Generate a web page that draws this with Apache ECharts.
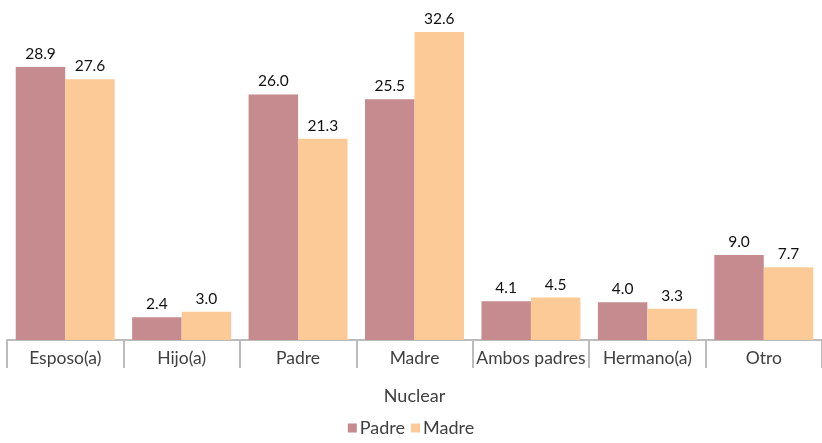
<!DOCTYPE html>
<html><head><meta charset="utf-8">
<script src="https://cdn.jsdelivr.net/npm/echarts@6/dist/echarts.min.js"></script>
<style>html,body{margin:0;padding:0;background:#fff}#c{width:822px;height:443px}</style>
</head><body><div id="c"></div>
<script>
const categories = ['Esposo(a)', 'Hijo(a)', 'Padre', 'Madre', 'Ambos padres', 'Hermano(a)', 'Otro'];
const padre = [28.9, 2.4, 26.0, 25.5, 4.1, 4.0, 9.0];
const madre = [27.6, 3.0, 21.3, 32.6, 4.5, 3.3, 7.7];
const seriesNames = ['Padre', 'Madre'];
const axisName = 'Nuclear';

const font = 'Lato, "Open Sans", sans-serif';
const chart = echarts.init(document.getElementById('c'));
const lbl = {show: true, position: 'top', distance: 5, color: '#111', fontSize: 15.5, fontFamily: font, formatter: p => p.value.toFixed(1)};
chart.setOption({
  animation: false,
  grid: {left: 7, right: 0, top: 0, bottom: 103},
  legend: {bottom: 1, left: 'center', itemWidth: 9, itemHeight: 9, itemGap: 6, icon: 'rect',
    textStyle: {fontFamily: font, fontSize: 18, color: '#404040', padding: [0,0,0,-2]}, data: seriesNames},
  xAxis: {type: 'category', data: categories,
    axisLine: {lineStyle: {color: '#bcbcbc', width: 2}},
    axisTick: {show: true, length: 28, lineStyle: {color: '#bcbcbc', width: 2}},
    axisLabel: {fontFamily: font, fontSize: 17.5, color: '#404040', margin: 9, interval: 0},
    name: axisName, nameLocation: 'middle', nameGap: 47,
    nameTextStyle: {fontFamily: font, fontSize: 18, color: '#404040'}},
  yAxis: {type: 'value', min: 0, max: 36, show: false, splitLine: {show: false}},
  series: [
    {name: seriesNames[0], type: 'bar', data: padre, barGap: '0%', barCategoryGap: '15%',
      itemStyle: {color: '#c58b8f'}, label: lbl},
    {name: seriesNames[1], type: 'bar', data: madre, barGap: '0%', barCategoryGap: '15%',
      itemStyle: {color: '#fbca97'}, label: lbl}
  ]
});
</script></body></html>
